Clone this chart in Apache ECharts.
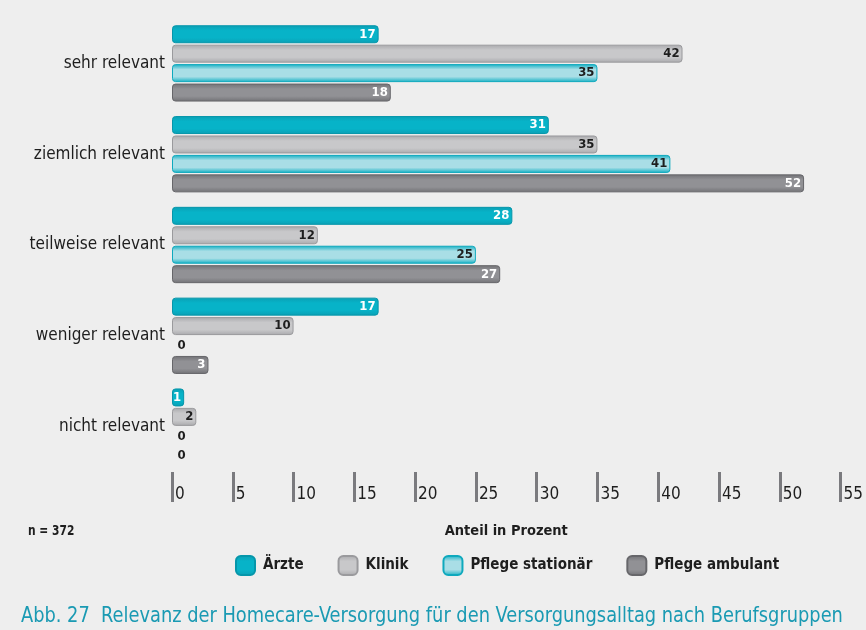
<!DOCTYPE html>
<html>
<head>
<meta charset="utf-8">
<script src="https://cdn.jsdelivr.net/npm/echarts@6/dist/echarts.min.js"></script>
<style>
  html, body { margin: 0; padding: 0; background: #eeeeee; }
  #chart { width: 866px; height: 630px; }
</style>
</head>
<body>
<div id="chart"></div>
<script>
// Answer categories (top to bottom)
const categories = ['sehr relevant', 'ziemlich relevant', 'teilweise relevant', 'weniger relevant', 'nicht relevant'];
// Share in percent per professional group
const aerzte = [17, 31, 28, 17, 1];
const klinik = [42, 35, 12, 10, 2];
const pflegeStationaer = [35, 41, 25, 0, 0];
const pflegeAmbulant = [18, 52, 27, 3, 0];
const seriesNames = ['Ärzte', 'Klinik', 'Pflege stationär', 'Pflege ambulant'];
const xTicks = [0, 5, 10, 15, 20, 25, 30, 35, 40, 45, 50, 55];

const FONT = '"Liberation Sans Narrow", "DejaVu Sans Condensed", "Roboto Condensed", sans-serif';

function vGrad(edge, mid) {
  return new echarts.graphic.LinearGradient(0, 0, 0, 1, [
    { offset: 0, color: edge },
    { offset: 0.3, color: mid },
    { offset: 0.7, color: mid },
    { offset: 1, color: edge }
  ]);
}

const styles = [
  { fill: vGrad('#0a9fb4', '#07b3c8'), border: '#0596aa', label: '#ffffff' },
  { fill: vGrad('#a9a9ac', '#c8c8ca'), border: '#9a9a9d', label: '#1e1e1e' },
  { fill: vGrad('#12afc3', '#a9dee6'), border: '#0ea9bd', label: '#1e1e1e' },
  { fill: vGrad('#717175', '#919195'), border: '#66666a', label: '#ffffff' }
];

const allValues = [aerzte, klinik, pflegeStationaer, pflegeAmbulant];

const series = allValues.map((vals, i) => ({
  name: seriesNames[i],
  type: 'bar',
  barWidth: 18,
  barGap: '8%',
  itemStyle: {
    color: styles[i].fill,
    borderColor: styles[i].border,
    borderWidth: 1,
    borderRadius: 3
  },
  label: {
    show: true,
    position: 'insideRight',
    distance: 3,
    color: styles[i].label,
    fontFamily: FONT,
    fontWeight: 'bold',
    fontSize: 13
  },
  data: vals.map(v => v === 0
    ? {
        value: v,
        itemStyle: { opacity: 0 },
        label: { position: 'right', distance: 5, color: '#1e1e1e', opacity: 1 }
      }
    : v)
}));

const chart = echarts.init(document.getElementById('chart'), null, { renderer: 'canvas' });
chart.setOption({
  backgroundColor: '#eeeeee',
  animation: false,
  grid: { left: 172, right: 23, top: 18, bottom: 158, containLabel: false },
  xAxis: {
    type: 'value',
    min: 0,
    max: 55,
    interval: 5,
    name: 'Anteil in Prozent',
    nameLocation: 'middle',
    nameGap: 52,
    nameTextStyle: { fontFamily: FONT, fontSize: 14.5, fontWeight: 'bold', color: '#1e1e1e' },
    splitLine: { show: false },
    axisLine: { show: false },
    axisTick: { show: true, length: 30, lineStyle: { color: '#7a7a7e', width: 3 } },
    axisLabel: {
      fontFamily: FONT,
      fontSize: 17,
      color: '#1e1e1e',
      align: 'left',
      verticalAlign: 'top',
      margin: 14,
      padding: [0, 0, 0, 3],
      formatter: v => xTicks.includes(v) ? String(v) : ''
    }
  },
  yAxis: {
    type: 'category',
    data: categories,
    inverse: true,
    axisLine: { show: false },
    axisTick: { show: false },
    axisLabel: { fontFamily: FONT, fontSize: 17, color: '#1e1e1e', margin: 7 }
  },
  legend: {
    left: 235,
    top: 555,
    padding: 0,
    itemWidth: 19,
    itemHeight: 19,
    itemGap: 34,
    icon: 'roundRect',
    textStyle: { fontFamily: FONT, fontSize: 15, fontWeight: 'bold', color: '#1e1e1e', padding: [0, 0, 0, 3] },
    data: seriesNames
  },
  graphic: [
    {
      type: 'text', left: 28, top: 524, scaleX: 0.85,
      style: { text: 'n = 372', fontFamily: FONT, fontSize: 14, fontWeight: 'bold', fill: '#1e1e1e' }
    },
    {
      type: 'text', x: 21, y: 605, scaleX: 0.9,
      style: {
        text: 'Abb. 27  Relevanz der Homecare-Versorgung für den Versorgungsalltag nach Berufsgruppen',
        fontFamily: FONT, fontSize: 22, fill: '#1a9ab3'
      }
    }
  ],
  series: series
});
</script>
</body>
</html>
